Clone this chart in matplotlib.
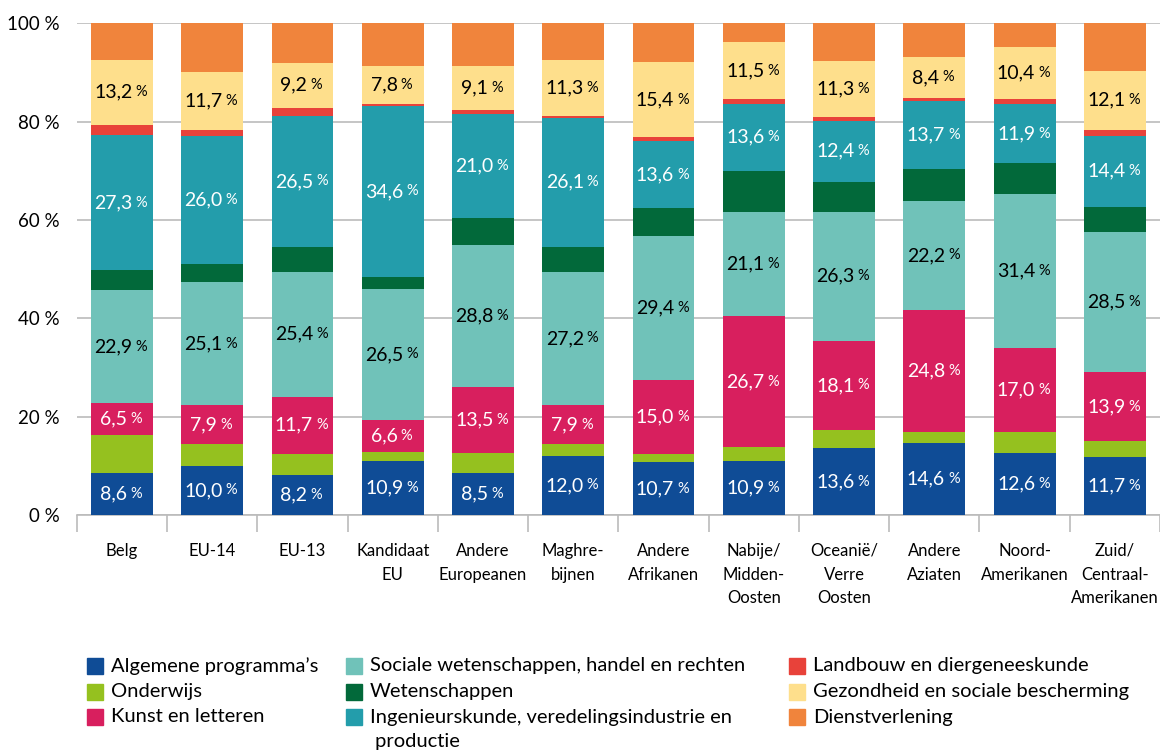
import numpy as np
import matplotlib
matplotlib.use("Agg")
from matplotlib import pyplot as plt
from matplotlib.patches import Rectangle

plt.rcParams['font.family'] = ['Lato', 'DejaVu Sans']

# categories (x axis)
groups = ["Belg", "EU-14", "EU-13", "Kandidaat\nEU", "Andere\nEuropeanen",
          "Maghre-\nbijnen", "Andere\nAfrikanen", "Nabije/\nMidden-\nOosten",
          "Oceanië/\nVerre\nOosten", "Andere\nAziaten", "Noord-\nAmerikanen",
          "Zuid/\nCentraal-\nAmerikanen"]

# series values (%), bottom to top
algemene = [8.6, 10.0, 8.2, 10.9, 8.5, 12.0, 10.7, 10.9, 13.6, 14.6, 12.6, 11.7]
onderwijs = [7.7, 4.4, 4.2, 1.9, 4.1, 2.4, 1.7, 2.9, 3.7, 2.3, 4.3, 3.4]
kunst = [6.5, 7.9, 11.7, 6.6, 13.5, 7.9, 15.0, 26.7, 18.1, 24.8, 17.0, 13.9]
sociale = [22.9, 25.1, 25.4, 26.5, 28.8, 27.2, 29.4, 21.1, 26.3, 22.2, 31.4, 28.5]
wetenschappen = [4.2, 3.7, 5.1, 2.6, 5.6, 5.1, 5.6, 8.4, 6.1, 6.5, 6.3, 5.2]
ingenieur = [27.3, 26.0, 26.5, 34.6, 21.0, 26.1, 13.6, 13.6, 12.4, 13.7, 11.9, 14.4]
landbouw = [2.2, 1.2, 1.7, 0.4, 0.8, 0.5, 0.8, 1.0, 0.8, 0.7, 1.2, 1.2]
gezondheid = [13.2, 11.7, 9.2, 7.8, 9.1, 11.3, 15.4, 11.5, 11.3, 8.4, 10.4, 12.1]
dienst = [7.4, 10.0, 8.0, 8.7, 8.6, 7.5, 7.8, 3.9, 7.7, 6.8, 4.9, 9.6]

series_names = ["Algemene programma’s", "Onderwijs", "Kunst en letteren",
                "Sociale wetenschappen, handel en rechten", "Wetenschappen",
                "Ingenieurskunde, veredelingsindustrie en\n productie",
                "Landbouw en diergeneeskunde", "Gezondheid en sociale bescherming",
                "Dienstverlening"]
series = [algemene, onderwijs, kunst, sociale, wetenschappen, ingenieur,
          landbouw, gezondheid, dienst]
colors = ["#0f4c96", "#95c11f", "#d81f5e", "#70c2b9", "#02693a", "#239dab",
          "#e8423a", "#fedf8c", "#f0843c"]
# which series get value labels, and label colour
label_color = {0: "white", 2: "white", 3: "black", 5: "white", 7: "black"}

W, H = 1160, 751
fig = plt.figure(figsize=(W / 100, H / 100), dpi=100)
ax = fig.add_axes([76.75 / W, (H - 515) / H, (W - 76.75) / W, (515 - 23.3) / H])

x = np.arange(len(groups))
bottom = np.zeros(len(groups))
for i, vals in enumerate(series):
    vals = np.array(vals)
    ax.bar(x, vals, bottom=bottom, width=0.685, color=colors[i], zorder=3)
    if i in label_color:
        for xi, b, v in zip(x, bottom, vals):
            ax.text(xi, b + v / 2, f"{v:.1f}".replace(".", ","), ha="right",
                    va="center", fontsize=14, color=label_color[i], zorder=4)
    bottom += vals

ax.set_xlim(-0.5, -0.5 + (W - 76.75) / 90.5)
ax.set_ylim(0, 100)
ax.set_yticks([0, 20, 40, 60, 80, 100])
ax.set_yticklabels([f"{v} %" for v in [0, 20, 40, 60, 80, 100]], fontsize=13.5)
ax.tick_params(axis="y", length=0, pad=12)
ax.yaxis.grid(True, color="#bbbbbb", lw=1.2, zorder=0)
for s in ["left", "right", "top"]:
    ax.spines[s].set_visible(False)
ax.spines["bottom"].set_color("#bbbbbb")
ax.spines["bottom"].set_linewidth(1.2)

ax.set_xticks(x)
ax.set_xticklabels(groups, fontsize=12, linespacing=1.6)
ax.set_xticks(np.arange(-0.5, len(groups), 1), minor=True)
ax.tick_params(axis="x", which="major", length=0, pad=20)
ax.tick_params(axis="x", which="minor", length=12, color="#bbbbbb", width=1.2)

# shift numbers left and append a smaller % sign
fig.canvas.draw()
r = fig.canvas.get_renderer()
inv = ax.transData.inverted()
for t in list(ax.texts):
    bb = t.get_window_extent(r)
    w = bb.width + 17
    x0, y0 = t.get_position()
    xd, yd = ax.transData.transform((x0, y0))
    newx = inv.transform((xd + w / 2 - 17, yd))[0]
    t.set_position((newx, y0))
    px = inv.transform((xd + w / 2 - 14, yd))[0]
    ax.text(px, y0, "%", ha="left", va="center", fontsize=10.5,
            color=t.get_color(), zorder=4)

# legend
col_x = [87, 346, 789]
row_y = [666, 692, 717]
for i, name in enumerate(series_names):
    cx = col_x[i // 3]
    cy = row_y[i % 3]
    fig.patches.append(Rectangle((cx / W, (H - cy - 8) / H), 16 / W, 16 / H,
                                 transform=fig.transFigure, color=colors[i],
                                 figure=fig))
    for k, line in enumerate(name.split("\n")):
        fig.text((cx + 24) / W, (H - cy - 25 * k) / H, line, ha="left",
                 va="center", fontsize=14.5)

fig.savefig("out.png", dpi=100)
